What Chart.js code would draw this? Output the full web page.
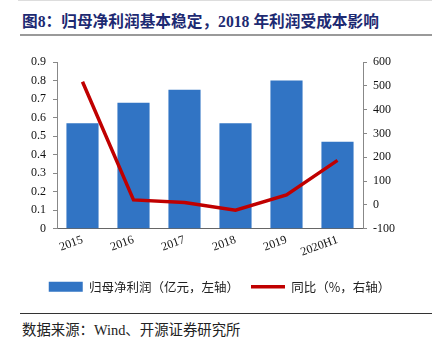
<!DOCTYPE html>
<html><head><meta charset="utf-8">
<script src="https://cdn.jsdelivr.net/npm/chart.js@4/dist/chart.umd.min.js"></script>
<style>
html,body{margin:0;padding:0;background:#fff;}
#wrap{position:relative;width:439px;height:345px;overflow:hidden;}
#topline{position:absolute;left:18px;top:0;width:414px;height:1px;background:#ddd;}
#title{position:absolute;left:22px;top:9px;font-family:"Liberation Serif","Noto Sans CJK SC",serif;font-weight:bold;font-size:15.7px;color:#1d2a72;white-space:nowrap;}
#tline{position:absolute;left:20px;top:34px;width:412px;height:2px;background:#9a9a9a;}
#cv{position:absolute;left:0;top:36px;}
#bline{position:absolute;left:20px;top:313px;width:412px;height:1px;background:#333;}
#src{position:absolute;left:22px;top:318px;font-family:"Liberation Serif","Noto Sans CJK SC",serif;font-size:14.4px;color:#222;white-space:nowrap;}
</style></head>
<body><div id="wrap">
<div id="topline"></div>
<div id="title">图8：归母净利润基本稳定，2018 年利润受成本影响</div>
<div id="tline"></div>
<canvas id="cv" width="439" height="267" style="width:439px;height:267px"></canvas>
<div id="bline"></div>
<div id="src">数据来源：Wind、开源证券研究所</div>
</div>
<script>
const categories = ["2015","2016","2017","2018","2019","2020H1"];
const netProfit = [0.57, 0.68, 0.75, 0.57, 0.80, 0.47];
const yoyGrowth = [517, 21, 10, -22, 42, 187];
const leftTicks = [0,0.1,0.2,0.3,0.4,0.5,0.6,0.7,0.8,0.9];
const rightTicks = [-100,0,100,200,300,400,500,600];

const tickFont = {family:"Liberation Serif", size:12};
new Chart(document.getElementById('cv'), {
  data: {
    labels: categories,
    datasets: [
      {type:'line', label:'同比（%，右轴）', data: yoyGrowth, yAxisID:'y2',
       borderColor:'#c00000', backgroundColor:'#c00000', borderWidth:3.5, pointRadius:0,
       pointStyle:'line', tension:0, order:0},
      {type:'bar', label:'归母净利润（亿元，左轴）', data: netProfit, yAxisID:'y',
       backgroundColor:'#3174c4', borderColor:'#3174c4', borderWidth:0,
       categoryPercentage:1, barPercentage:0.63, pointStyle:'rect', order:1}
    ]
  },
  options: {
    responsive:false, animation:false,
    layout:{padding:{top:26,left:0,right:0,bottom:0}},
    plugins:{
      legend:{position:'bottom', reverse:true,
        labels:{usePointStyle:true, pointStyleWidth:34, boxWidth:34, boxHeight:10, padding:12,
          font:{family:"Noto Sans CJK SC", size:12.5}, color:'#222'}},
      tooltip:{enabled:false}
    },
    scales:{
      x:{grid:{display:false, drawTicks:false}, border:{color:'#666', width:1},
         afterFit:(s)=>{s.height+=5;},
         ticks:{font:tickFont, color:'#111', minRotation:20, maxRotation:20, padding:4}},
      y:{position:'left', min:0, max:0.9,
         afterBuildTicks:(s)=>{s.ticks = leftTicks.map(v=>({value:v}));},
         afterFit:(s)=>{s.width=57;},
         grid:{drawOnChartArea:false, tickLength:4, color:'#888'}, border:{color:'#888'},
         ticks:{font:tickFont, color:'#111', padding:7, callback:(v)=>String(Math.round(v*10)/10)}},
      y2:{position:'right', min:-100, max:600,
         afterBuildTicks:(s)=>{s.ticks = rightTicks.map(v=>({value:v}));},
         afterFit:(s)=>{s.width=76;},
         grid:{drawOnChartArea:false, tickLength:4, color:'#888'}, border:{color:'#888'},
         ticks:{font:tickFont, color:'#111', padding:6}}
    }
  }
});
</script>
</body></html>
